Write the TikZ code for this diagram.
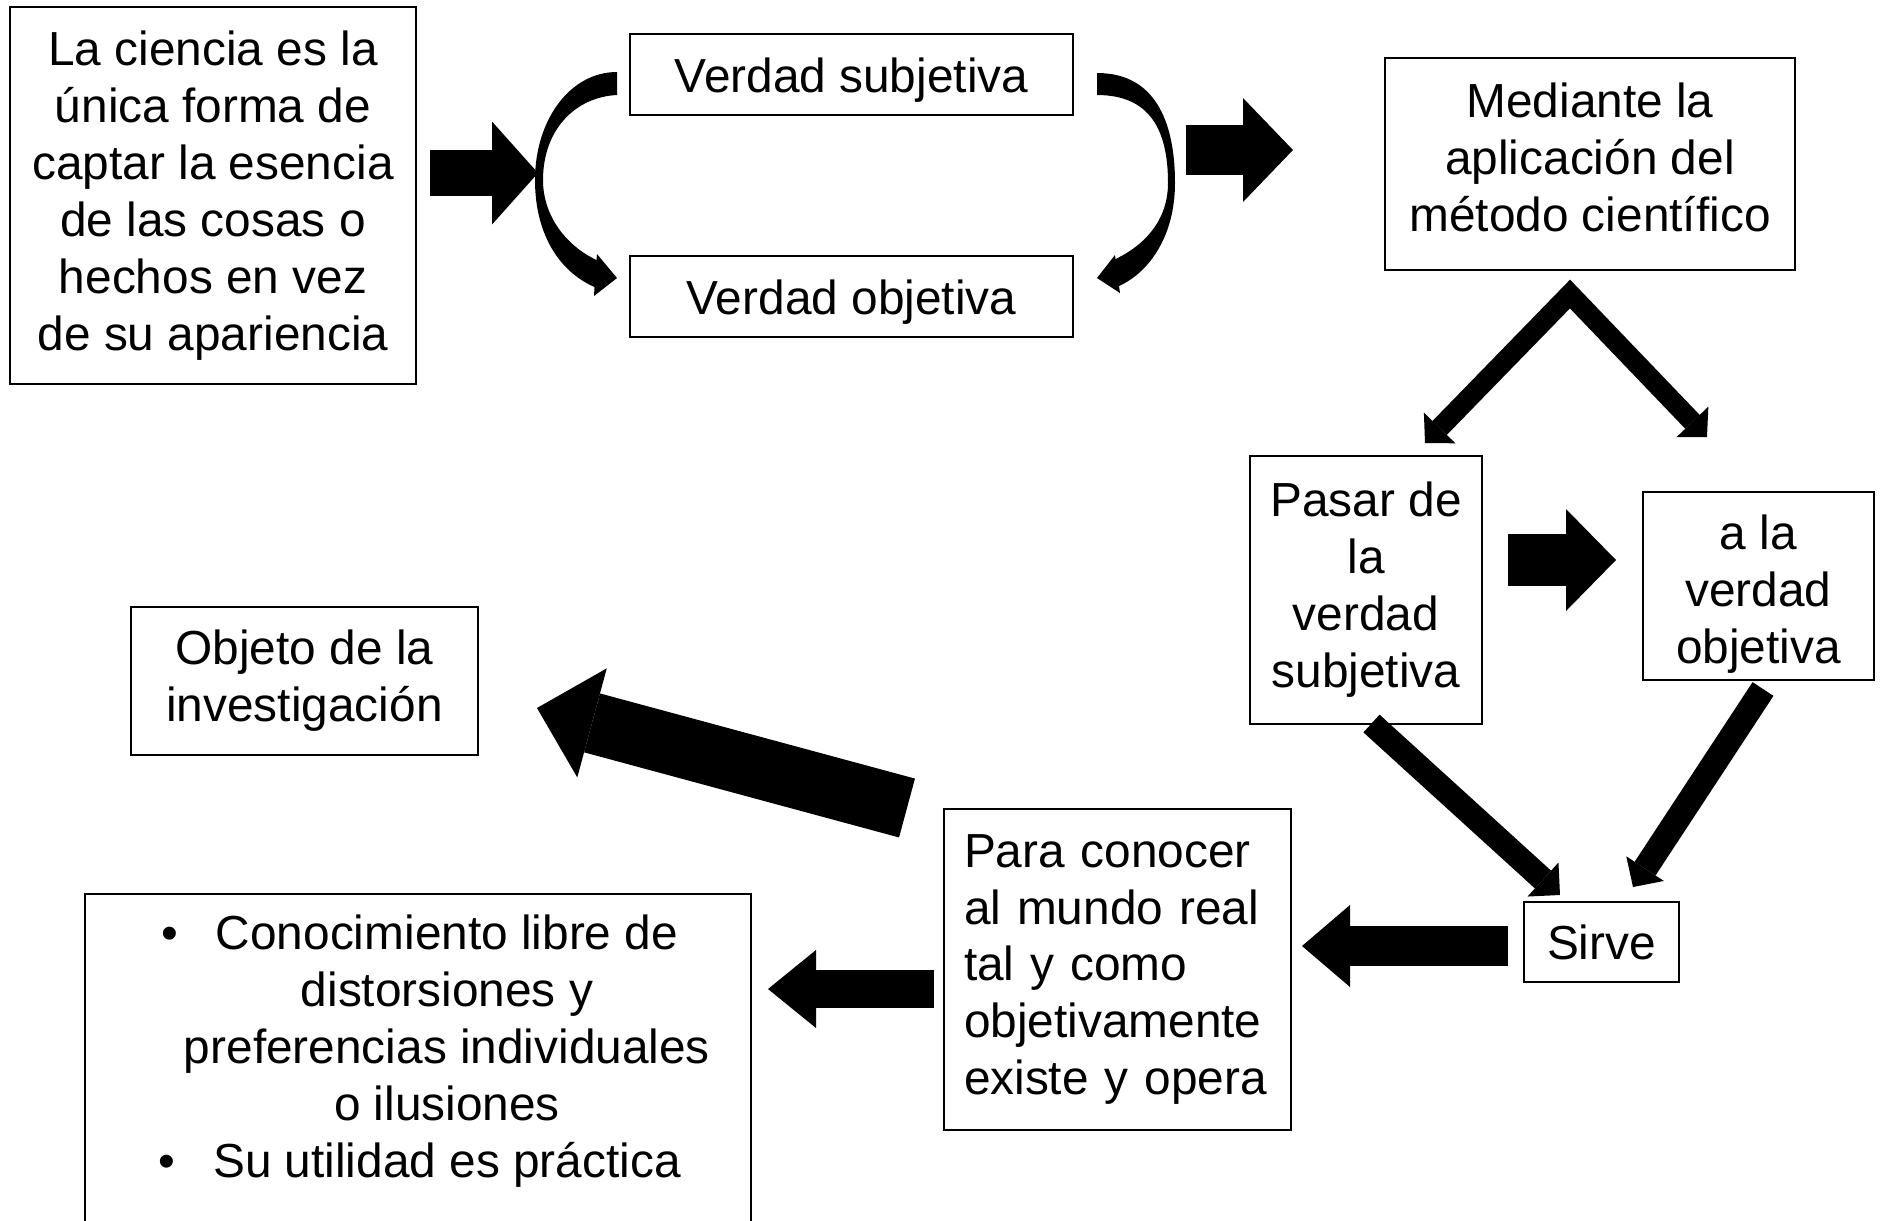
\documentclass[tikz,border=0pt]{standalone}
\usepackage{fontspec}
\setmainfont{Liberation Sans}
\usetikzlibrary{arrows.meta}

\tikzset{
  txt/.style={font=\fontsize{13.6}{16.2}\selectfont, align=center, inner sep=0pt},
  box/.style={txt, draw, line width=0.7pt},
  blockarrow/.style n args={3}{line width=#1, -{Triangle[width=#2,length=#3,line width=0pt]}},
}

\begin{document}
\begin{tikzpicture}[x=1cm,y=-1cm]
\useasboundingbox (0,0) rectangle (18.81,12.20);
\clip (0,0) rectangle (18.81,12.20);

% cajas
\node[box, minimum width=4.06cm, minimum height=3.77cm] (ciencia) at (2.13,1.955)
  {La ciencia es la\\única forma de\\captar la esencia\\de las cosas o\\hechos en vez\\de su apariencia};
\node[box, minimum width=4.43cm, minimum height=0.81cm] (vsubj) at (8.515,0.745) {\rule{0pt}{0.45cm}Verdad subjetiva};
\node[box, minimum width=4.43cm, minimum height=0.81cm] (vobj) at (8.515,2.965) {\rule{0pt}{0.45cm}Verdad objetiva};
\node[box, minimum width=4.10cm, minimum height=2.12cm] (metodo) at (15.90,1.64)
  {Mediante la\\aplicación del\\método científico\rule[-0.14cm]{0pt}{0.14cm}};
\node[box, minimum width=2.32cm, minimum height=2.68cm] (pasar) at (13.66,5.90)
  {Pasar de\\la\\verdad\\subjetiva};
\node[box, minimum width=2.31cm, minimum height=1.88cm] (alaverdad) at (17.585,5.86)
  {\rule{0pt}{0.51cm}a la\\verdad\\objetiva};
\node[box, minimum width=3.47cm, minimum height=1.48cm] (objeto) at (3.045,6.81)
  {Objeto de la\\investigación};
\node[box, minimum width=3.47cm, minimum height=3.21cm, text width=3.07cm, align=left] (conocer) at (11.175,9.695)
  {Para conocer\\al mundo real\\tal y como\\objetivamente\\existe y opera};
\node[box, minimum width=1.55cm, minimum height=0.80cm] (sirve) at (16.015,9.42) {Sirve};
\node[box, minimum width=6.66cm, minimum height=4cm, anchor=north west] (resultado) at (0.84,8.93) {};
\node[txt] (resultadotxt) at (4.47,10.51)
  {\leavevmode\llap{\textbullet\hspace{0.38cm}}Conocimiento libre de\\distorsiones y\\preferencias individuales\\o ilusiones\\
   \leavevmode\llap{\textbullet\hspace{0.38cm}}Su utilidad es práctica};

% extremos de las flechas
\coordinate (a1) at (4.30,1.73);   \coordinate (a2) at (5.38,1.73);
\coordinate (b1) at (11.86,1.50);  \coordinate (b2) at (12.93,1.50);
\coordinate (f1) at (14.25,4.43);  \coordinate (fa) at (15.70,2.94);  \coordinate (f2) at (17.07,4.37);
\coordinate (c1) at (15.08,5.60);  \coordinate (c2) at (16.16,5.60);
\coordinate (d1) at (13.715,7.235); \coordinate (d2) at (15.60,8.95);
\coordinate (e1) at (17.63,6.89);  \coordinate (e2) at (16.33,8.87);
\coordinate (s1) at (15.08,9.46);  \coordinate (s2) at (13.02,9.46);
\coordinate (p1) at (9.34,9.89);   \coordinate (p2) at (7.68,9.89);
\coordinate (o1) at (9.07,8.08);   \coordinate (o2) at (5.37,7.08);

\draw[blockarrow={0.46cm}{1.03cm}{0.46cm}] (a1) -- (a2);
\draw[blockarrow={0.50cm}{1.04cm}{0.50cm}] (b1) -- (b2);
\draw[line width=0.20cm, {Triangle[width=0.44cm,length=0.21cm,line width=0pt]}-{Triangle[width=0.44cm,length=0.21cm,line width=0pt]}]
  (f1) -- (fa) -- (f2);
\draw[blockarrow={0.52cm}{1.02cm}{0.50cm}] (c1) -- (c2);
\draw[blockarrow={0.24cm}{0.46cm}{0.23cm}] (d1) -- (d2);
\draw[blockarrow={0.25cm}{0.45cm}{0.22cm}] (e1) -- (e2);
\draw[blockarrow={0.40cm}{0.82cm}{0.48cm}] (s1) -- (s2);
\draw[blockarrow={0.38cm}{0.78cm}{0.48cm}] (p1) -- (p2);
\draw[blockarrow={0.61cm}{1.13cm}{0.57cm}] (o1) -- (o2);

% flechas curvas
\fill (6.17,0.72) .. controls (5.70,0.72) and (5.35,1.20) .. (5.35,1.80)
  .. controls (5.35,2.35) and (5.60,2.72) .. (5.945,2.87)
  -- (5.94,2.96) -- (6.17,2.78) -- (5.97,2.54) -- (5.965,2.60)
  .. controls (5.65,2.45) and (5.43,2.15) .. (5.43,1.80)
  .. controls (5.43,1.30) and (5.75,0.97) .. (6.17,0.95) -- cycle;
\fill (10.97,0.73) .. controls (11.60,0.73) and (11.75,1.30) .. (11.75,1.83)
  .. controls (11.75,2.35) and (11.50,2.72) .. (11.19,2.86)
  -- (11.20,2.93) -- (10.97,2.78) -- (11.15,2.55) -- (11.155,2.59)
  .. controls (11.45,2.45) and (11.68,2.20) .. (11.68,1.83)
  .. controls (11.68,1.30) and (11.50,0.95) .. (10.97,0.95) -- cycle;
\end{tikzpicture}
\end{document}
